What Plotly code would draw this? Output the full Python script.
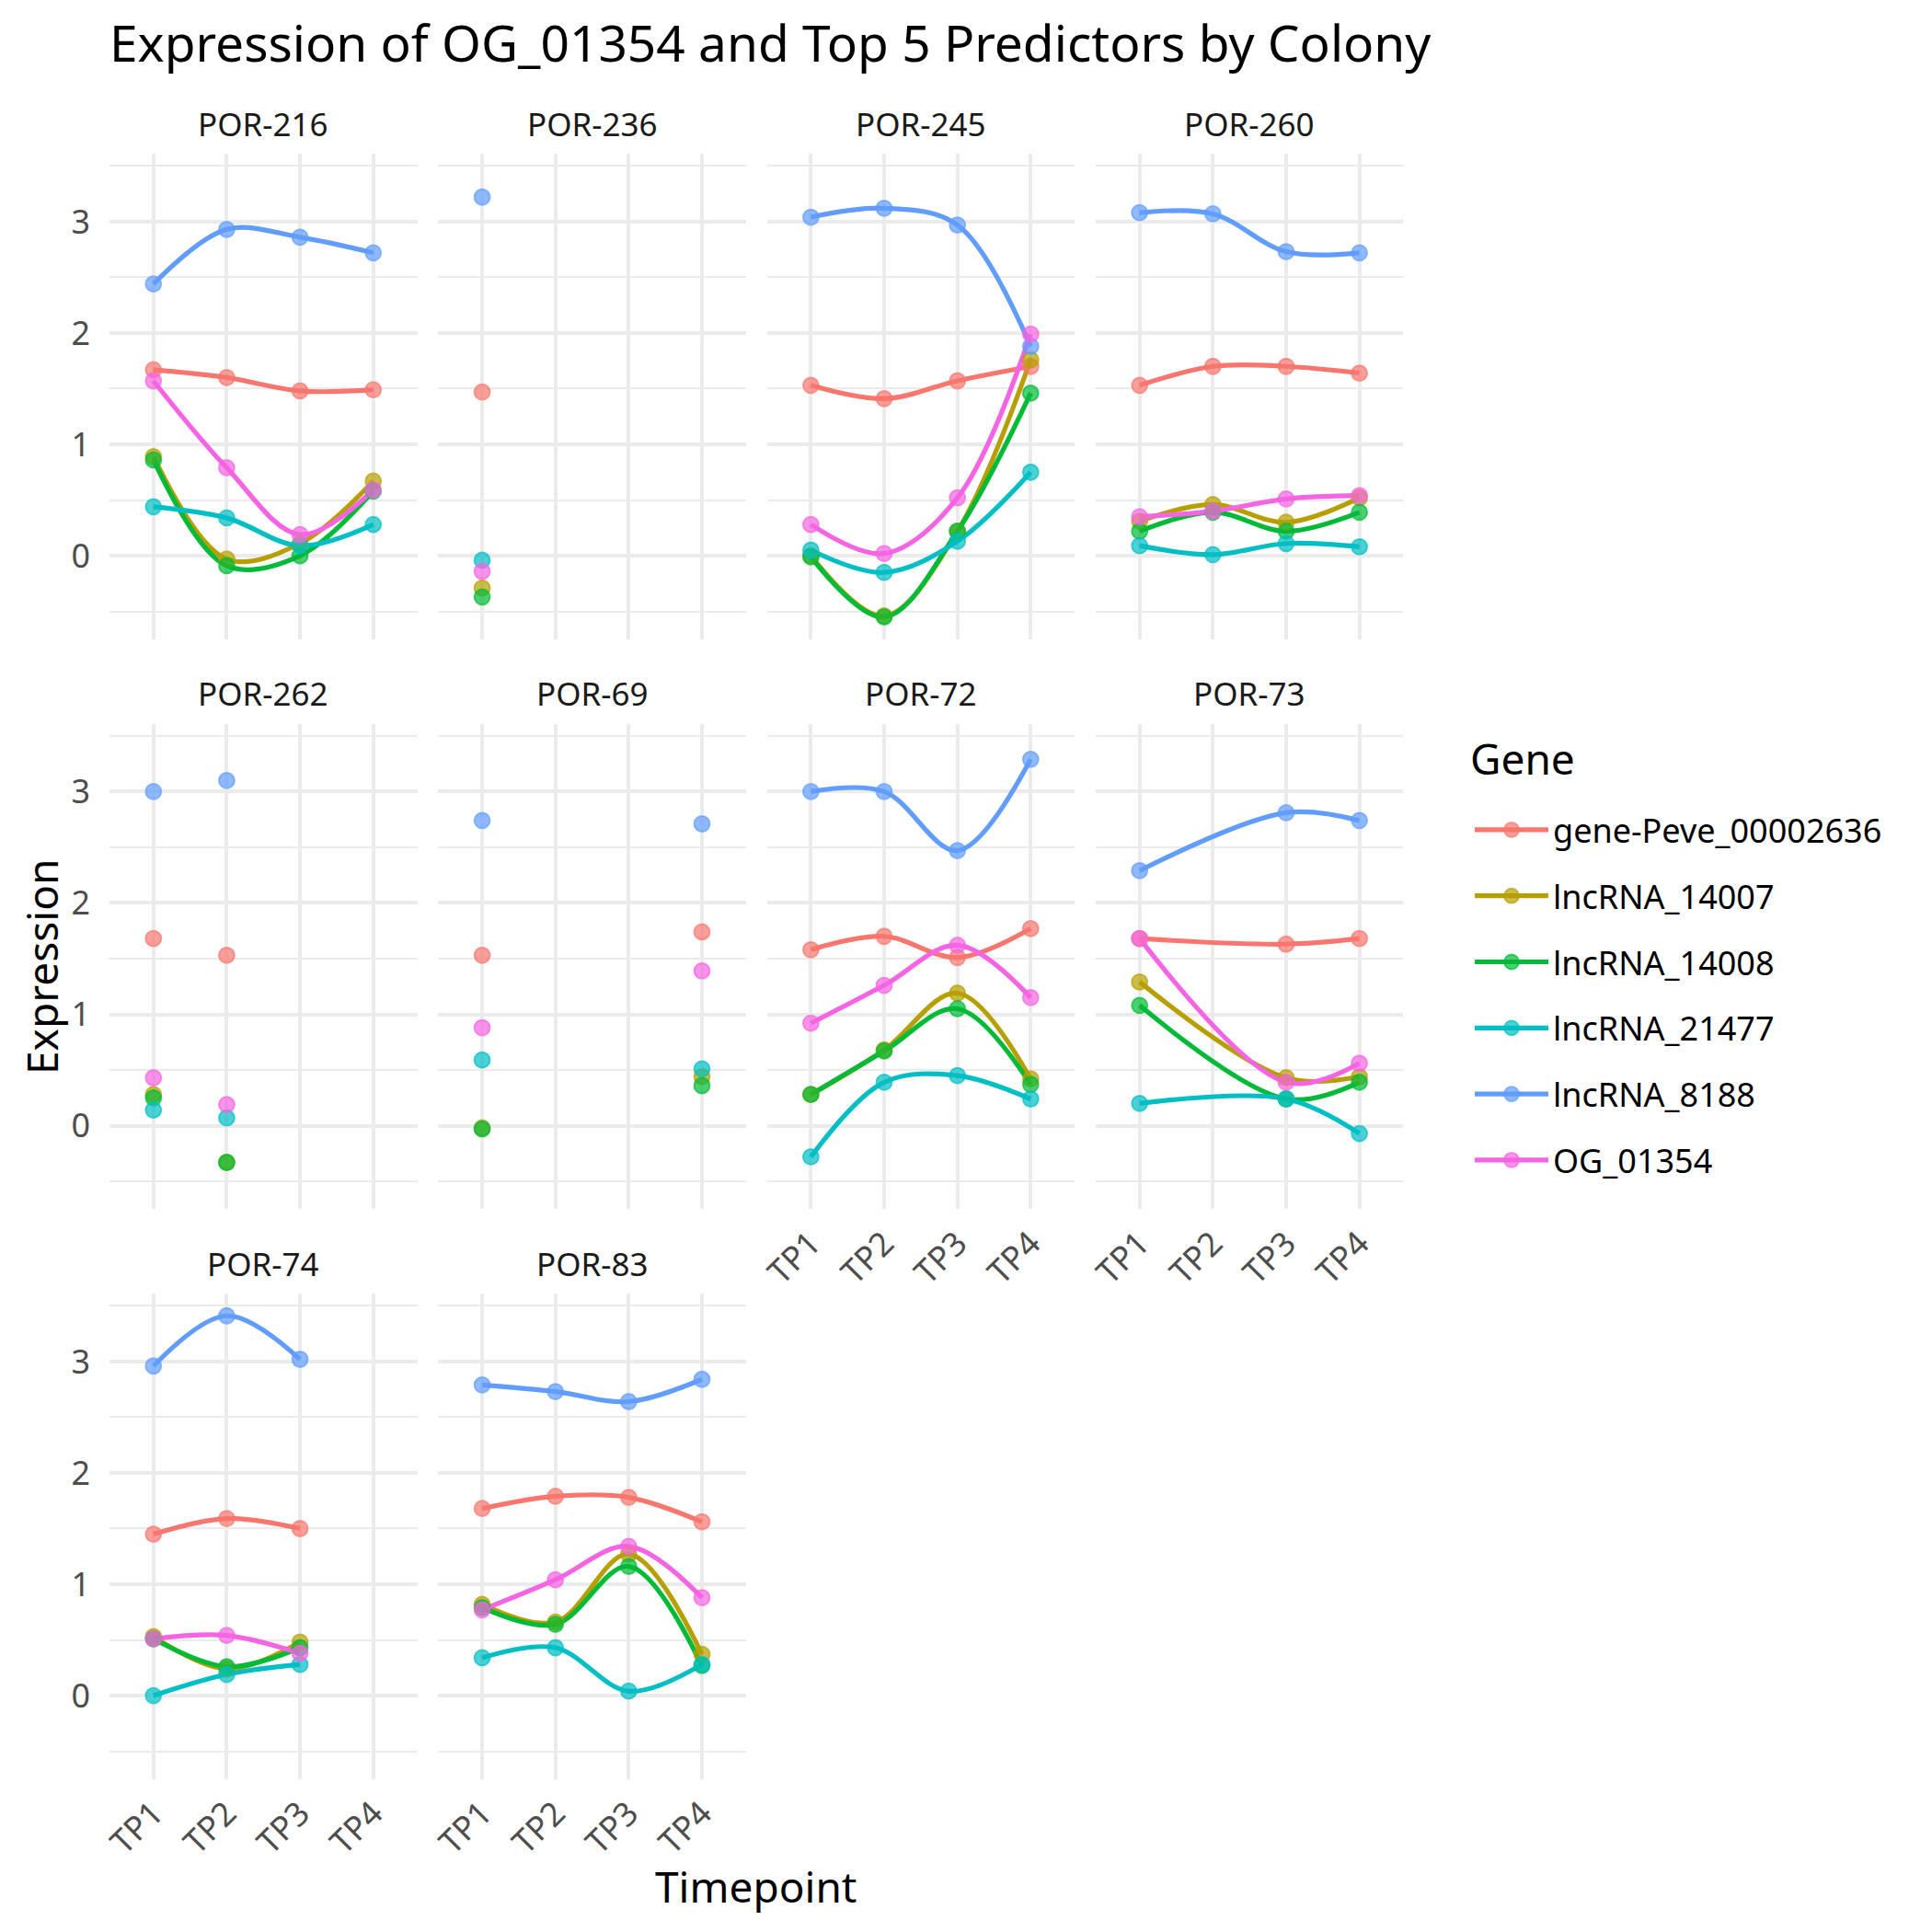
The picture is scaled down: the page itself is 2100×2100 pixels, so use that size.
import plotly.graph_objects as go

timepoints = ["TP1", "TP2", "TP3", "TP4"]
colonies = ["POR-216", "POR-236", "POR-245", "POR-260", "POR-262",
            "POR-69", "POR-72", "POR-73", "POR-74", "POR-83"]
genes = ["gene-Peve_00002636", "lncRNA_14007", "lncRNA_14008",
         "lncRNA_21477", "lncRNA_8188", "OG_01354"]
gene_colors = ["#F8766D", "#B79F00", "#00BA38", "#00BFC4", "#619CFF", "#F564E3"]

# values per colony (rows, in colonies order) for TP1..TP4 (None = not sampled)
gene_peve_00002636 = [
    [1.67, 1.60, 1.48, 1.49],
    [1.47, None, None, None],
    [1.53, 1.41, 1.57, 1.70],
    [1.53, 1.70, 1.70, 1.64],
    [1.68, 1.53, None, None],
    [1.53, None, None, 1.74],
    [1.58, 1.70, 1.51, 1.77],
    [1.68, None, 1.63, 1.68],
    [1.45, 1.59, 1.50, None],
    [1.68, 1.79, 1.78, 1.56],
]
lncrna_14007 = [
    [0.89, -0.03, 0.11, 0.67],
    [-0.29, None, None, None],
    [0.00, -0.54, 0.22, 1.76],
    [0.31, 0.46, 0.30, 0.52],
    [0.28, -0.33, None, None],
    [-0.02, None, None, 0.44],
    [0.28, 0.68, 1.19, 0.42],
    [1.29, None, 0.43, 0.44],
    [0.53, 0.24, 0.48, None],
    [0.82, 0.66, 1.27, 0.37],
]
lncrna_14008 = [
    [0.86, -0.09, 0.00, 0.58],
    [-0.37, None, None, None],
    [-0.01, -0.55, 0.22, 1.46],
    [0.22, 0.39, 0.22, 0.39],
    [0.25, -0.33, None, None],
    [-0.03, None, None, 0.36],
    [0.28, 0.67, 1.05, 0.37],
    [1.08, None, 0.24, 0.39],
    [0.51, 0.26, 0.43, None],
    [0.79, 0.64, 1.16, 0.27],
]
lncrna_21477 = [
    [0.44, 0.34, 0.09, 0.28],
    [-0.04, None, None, None],
    [0.05, -0.15, 0.13, 0.75],
    [0.09, 0.01, 0.11, 0.08],
    [0.14, 0.07, None, None],
    [0.59, None, None, 0.51],
    [-0.28, 0.39, 0.45, 0.24],
    [0.20, None, 0.24, -0.07],
    [0.00, 0.19, 0.28, None],
    [0.34, 0.43, 0.04, 0.28],
]
lncrna_8188 = [
    [2.44, 2.93, 2.86, 2.72],
    [3.22, None, None, None],
    [3.04, 3.12, 2.97, 1.88],
    [3.08, 3.07, 2.73, 2.72],
    [3.00, 3.10, None, None],
    [2.74, None, None, 2.71],
    [3.00, 3.00, 2.47, 3.29],
    [2.29, None, 2.81, 2.74],
    [2.96, 3.41, 3.02, None],
    [2.79, 2.73, 2.64, 2.84],
]
og_01354 = [
    [1.57, 0.79, 0.19, 0.59],
    [-0.14, None, None, None],
    [0.28, 0.02, 0.52, 1.99],
    [0.35, 0.40, 0.51, 0.54],
    [0.43, 0.19, None, None],
    [0.88, None, None, 1.39],
    [0.92, 1.26, 1.62, 1.15],
    [1.68, None, 0.39, 0.56],
    [0.51, 0.54, 0.38, None],
    [0.77, 1.04, 1.34, 0.88],
]
gene_values = [gene_peve_00002636, lncrna_14007, lncrna_14008,
               lncrna_21477, lncrna_8188, og_01354]

# page offset of the figure inside the html body (default 8px body margin)
OFF = 8
W = H = 2100 - OFF
NCOL = 4
LEFT0, PITCH_X, PW = 119.0, 357.3, 334.5
TOP0, PITCH_Y, PH = 167.3, 619.5, 527.3
GRID = "#EBEBEB"
FONT = "Noto Sans"
LW = 5.2
MS = 17


def PX(p):
    return (p - OFF) / W


def PY(p):
    return 1 - (p - OFF) / H


def rgba(hexc, a):
    h = hexc.lstrip("#")
    return "rgba(%d,%d,%d,%s)" % (int(h[0:2], 16), int(h[2:4], 16), int(h[4:6], 16), a)


allv = [v for g in gene_values for row in g for v in row if v is not None]
lo, hi = min(allv), max(allv)
pad = 0.05 * (hi - lo)
yrange = [lo - pad, hi + pad]

fig = go.Figure()
layout = {}
annotations = []

bottom_of_col = {}
for k in range(len(colonies)):
    bottom_of_col[k % NCOL] = k

for k, col_name in enumerate(colonies):
    r, c = divmod(k, NCOL)
    left = LEFT0 + c * PITCH_X
    top = TOP0 + r * PITCH_Y
    xd = [PX(left), PX(left + PW)]
    yd = [PY(top + PH), PY(top)]
    sfx = "" if k == 0 else str(k + 1)
    layout["xaxis" + sfx] = dict(
        domain=xd, anchor="y" + sfx, type="category",
        categoryorder="array", categoryarray=timepoints,
        range=[-0.6, 3.6], showgrid=True, gridcolor=GRID, gridwidth=4.4,
        zeroline=False, showline=False, ticks="", automargin=False,
        showticklabels=(bottom_of_col[c] == k), tickangle=-45,
        tickfont=dict(family=FONT, size=36, color="#4D4D4D"),
        ticklabelstandoff=8,
    )
    layout["yaxis" + sfx] = dict(
        domain=yd, anchor="x" + sfx, range=yrange,
        tick0=0, dtick=1, showgrid=True, gridcolor=GRID, gridwidth=4.4,
        minor=dict(tick0=0, dtick=0.5, showgrid=True, gridcolor=GRID, gridwidth=2.2),
        zeroline=False, showline=False, ticks="", automargin=False,
        showticklabels=(c == 0),
        tickfont=dict(family=FONT, size=36, color="#4D4D4D"),
        ticklabelstandoff=20,
    )
    annotations.append(dict(
        text=col_name, x=PX(left + PW / 2), y=PY(top - 33),
        xref="paper", yref="paper", xanchor="center", yanchor="middle",
        showarrow=False, font=dict(family=FONT, size=35, color="#1A1A1A"),
    ))

# lines layer first
for k, col_name in enumerate(colonies):
    sfx = "" if k == 0 else str(k + 1)
    for gi, g in enumerate(genes):
        row = gene_values[gi][k]
        xs = [t for t, v in zip(timepoints, row) if v is not None]
        ys = [v for v in row if v is not None]
        if len(ys) >= 3:
            fig.add_trace(go.Scatter(
                x=xs, y=ys, mode="lines", xaxis="x" + sfx, yaxis="y" + sfx,
                line=dict(color=gene_colors[gi], width=LW, shape="spline", smoothing=1),
                showlegend=False, hoverinfo="skip", legendgroup=g,
            ))

# points layer
for k, col_name in enumerate(colonies):
    sfx = "" if k == 0 else str(k + 1)
    for gi, g in enumerate(genes):
        row = gene_values[gi][k]
        xs = [t for t, v in zip(timepoints, row) if v is not None]
        ys = [v for v in row if v is not None]
        fig.add_trace(go.Scatter(
            x=xs, y=ys, mode="markers", xaxis="x" + sfx, yaxis="y" + sfx,
            marker=dict(color=rgba(gene_colors[gi], 0.7), size=MS,
                        line=dict(color=rgba(gene_colors[gi], 0.7), width=1.8)),
            showlegend=False, name=g, legendgroup=g,
        ))

# legend entries
for gi, g in enumerate(genes):
    fig.add_trace(go.Scatter(
        x=[None], y=[None], mode="lines+markers", name=g, legendgroup=g,
        line=dict(color=gene_colors[gi], width=LW),
        marker=dict(color=rgba(gene_colors[gi], 0.7), size=MS,
                    line=dict(color=rgba(gene_colors[gi], 0.7), width=1.8)),
        showlegend=True,
    ))

annotations.append(dict(
    text="Expression", x=PX(45), y=PY(1051), xref="paper", yref="paper",
    textangle=-90, xanchor="center", yanchor="middle", showarrow=False,
    font=dict(family=FONT, size=46, color="black"),
))
annotations.append(dict(
    text="Timepoint", x=PX(821), y=PY(2050), xref="paper", yref="paper",
    xanchor="center", yanchor="middle", showarrow=False,
    font=dict(family=FONT, size=46, color="black"),
))
annotations.append(dict(
    text="Gene", x=PX(1596), y=PY(824), xref="paper", yref="paper",
    xanchor="left", yanchor="middle", showarrow=False,
    font=dict(family=FONT, size=46, color="black"),
))

layout.update(dict(
    width=W, height=H,
    margin=dict(l=0, r=0, t=0, b=0, autoexpand=False),
    paper_bgcolor="white", plot_bgcolor="white",
    font=dict(family=FONT, color="black"),
    title=dict(text="Expression of OG_01354 and Top 5 Predictors by Colony",
               x=PX(119), xanchor="left", y=PY(48), yanchor="middle",
               xref="paper", yref="paper", automargin=False,
               font=dict(family=FONT, size=55, color="black")),
    legend=dict(
        font=dict(family=FONT, size=36, color="black"),
        x=PX(1598), y=PY(872), xanchor="left", yanchor="top",
        traceorder="grouped", tracegroupgap=22, itemwidth=80,
        bgcolor="rgba(0,0,0,0)",
    ),
    annotations=annotations,
    showlegend=True,
))
fig.update_layout(**layout)
fig.write_html("out.html")
